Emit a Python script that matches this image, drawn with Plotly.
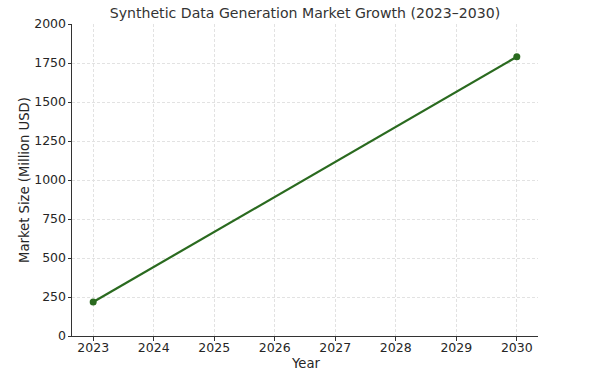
import plotly.graph_objects as go

years = [2023, 2030]
market_size = [218, 1790]
x_ticks = [2023, 2024, 2025, 2026, 2027, 2028, 2029, 2030]
y_ticks = [0, 250, 500, 750, 1000, 1250, 1500, 1750, 2000]

W, H = 600, 382
L, R, T, B = 72, 62, 24, 46
PW, PH = W - L - R, H - T - B

fig = go.Figure()
fig.add_trace(go.Scatter(
    x=years, y=market_size, mode="lines+markers",
    line=dict(color="#2a6a1f", width=2.2),
    marker=dict(color="#2a6a1f", size=7),
    showlegend=False,
    cliponaxis=False,
))

fig.update_layout(
    width=W, height=H,
    margin=dict(l=L, r=R, t=T, b=B, autoexpand=False),
    paper_bgcolor="white", plot_bgcolor="white",
    font=dict(family="DejaVu Sans", size=12.5, color="#262626"),
    title=dict(text="Synthetic Data Generation Market Growth (2023–2030)",
               x=0.5, xref="paper", xanchor="center",
               y=1 - 13 / H, yref="container", yanchor="middle",
               font=dict(size=14.1, color="#333333")),
    annotations=[
        dict(text="Year", xref="paper", yref="paper", x=0.5,
             y=-(363 - (T + PH)) / PH, xanchor="center", yanchor="middle",
             showarrow=False, font=dict(size=13.2, color="#262626")),
        dict(text="Market Size (Million USD)", xref="paper", yref="paper",
             x=(24 - L) / PW, y=0.5, xanchor="center", yanchor="middle",
             textangle=-90, showarrow=False, font=dict(size=13.2, color="#262626")),
    ],
)
fig.update_xaxes(
    range=[2022.65, 2030.35], tickvals=x_ticks, ticktext=[str(v) for v in x_ticks],
    showline=True, linecolor="#333333", linewidth=1, mirror=False,
    ticks="outside", ticklen=3.5, tickcolor="#333333", ticklabelstandoff=-4,
    showgrid=True, gridcolor="#e2e2e2", griddash="3px,2px", gridwidth=0.8,
    zeroline=False, automargin=False,
)
fig.update_yaxes(
    range=[0, 2000], tickvals=y_ticks, ticktext=[str(v) for v in y_ticks],
    showline=True, linecolor="#333333", linewidth=1,
    ticks="outside", ticklen=3.5, tickcolor="#333333", ticklabelstandoff=-1,
    showgrid=True, gridcolor="#e2e2e2", griddash="3px,2px", gridwidth=0.8,
    zeroline=False, automargin=False,
)

fig.write_html("out.html", config={"displayModeBar": False},
               post_script="document.body.style.margin='0';")
